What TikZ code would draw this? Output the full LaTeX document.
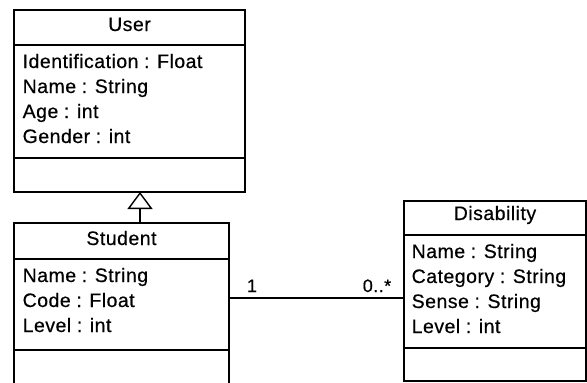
\documentclass[tikz,border=0pt]{standalone}
\usepackage{fontspec}
\setmainfont{Liberation Sans}[LetterSpace=2.5, WordSpace=0.95, FakeBold=0.5]
\usetikzlibrary{arrows.meta}

\begin{document}
\begin{tikzpicture}[x=1pt, y=-1pt, line width=1.4pt,
  classbox/.style={draw, anchor=north west, inner sep=0pt, outer sep=0pt},
  attr/.style={anchor=base west, inner sep=0pt, font=\fontsize{19.5}{21}\selectfont},
  cname/.style={anchor=base, inner sep=0pt, font=\fontsize{19.5}{21}\selectfont},
  mult/.style={anchor=base, inner sep=0pt, font=\fontsize{18}{21}\selectfont}]
\useasboundingbox (0,0) rectangle (587,383);
\clip (0,0) rectangle (587,383);

% User class
\node[classbox, minimum width=231pt, minimum height=182pt] (user) at (14,10) {};
\draw (14,45) -- (245,45);
\draw (14,158) -- (245,158);
\node[cname] (userT) at (129.5,31) {User};
\node[attr] (u1) at (22,68) {Identification : Float};
\node[attr] (u2) at (22,93) {Name : String};
\node[attr] (u3) at (22,118) {Age : int};
\node[attr] (u4) at (22,143) {Gender : int};

% Student class
\node[classbox, minimum width=215pt, minimum height=185pt] (student) at (14,223) {};
\draw (14,259) -- (229,259);
\draw (14,350) -- (229,350);
\node[cname] (studT) at (121.5,245) {Student};
\node[attr] (s1) at (22,282) {Name : String};
\node[attr] (s2) at (22,307) {Code : Float};
\node[attr] (s3) at (22,332) {Level : int};

% Disability class
\node[classbox, minimum width=182pt, minimum height=180pt] (dis) at (404,201) {};
\draw (404,235) -- (586,235);
\draw (404,348) -- (586,348);
\node[cname] (disT) at (495,220) {Disability};
\node[attr] (d1) at (411,258) {Name : String};
\node[attr] (d2) at (411,283) {Category : String};
\node[attr] (d3) at (411,308) {Sense : String};
\node[attr] (d4) at (411,333) {Level : int};

% Generalization: Student -> User
\draw[-{Triangle[open, length=17pt, width=25pt]}]
  ([xshift=126pt]student.north west) -- ([xshift=126pt]user.south west);

% Association: Student -- Disability
\coordinate (assoc) at (300,298);
\draw (student.east |- assoc) -- (dis.west |- assoc);
\node[mult] (m1) at (252,292) {1};
\node[mult] (m2) at (377,292) {0..*};
\end{tikzpicture}
\end{document}
